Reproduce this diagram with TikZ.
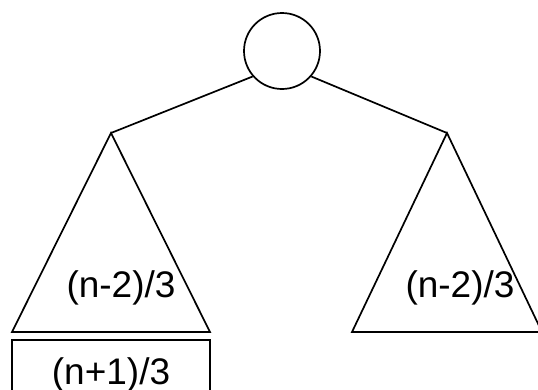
\documentclass[tikz,border=0pt]{standalone}
\usepackage{fontspec}
\setmainfont{Liberation Sans}
\begin{document}
\begin{tikzpicture}[x=1pt,y=-1pt,
  edge/.style={line width=1.7pt},
  lbl/.style={font=\fontsize{37}{42}\selectfont, inner sep=0pt},
  root/.style={circle, draw, line width=1.7pt, minimum size=76pt, inner sep=0pt},
  leafbox/.style={draw, line width=1.7pt, minimum width=198pt, minimum height=70pt, inner sep=0pt, font=\fontsize{37}{42}\selectfont}]
\useasboundingbox (0,0) rectangle (538,389);
\node[root] (c) at (282,51) {};
\coordinate (la) at (111,133);
\coordinate (ll) at (12,332);
\coordinate (lr) at (210,332);
\coordinate (ra) at (447,133);
\coordinate (rl) at (352,332);
\coordinate (rr) at (542,332);
\draw[edge, line join=miter] (la) -- (ll) -- (lr) -- cycle;
\draw[edge, line join=miter] (ra) -- (rl) -- (rr) -- cycle;
\draw[edge] (c.221) -- (la);
\draw[edge] (c.-41) -- (ra);
\node[lbl] (lt) at (121,288) {(n-2)/3};
\node[lbl] (rt) at (460,288) {(n-2)/3};
\node[leafbox] (box) at (111,375) {(n+1)/3};
\end{tikzpicture}
\end{document}
